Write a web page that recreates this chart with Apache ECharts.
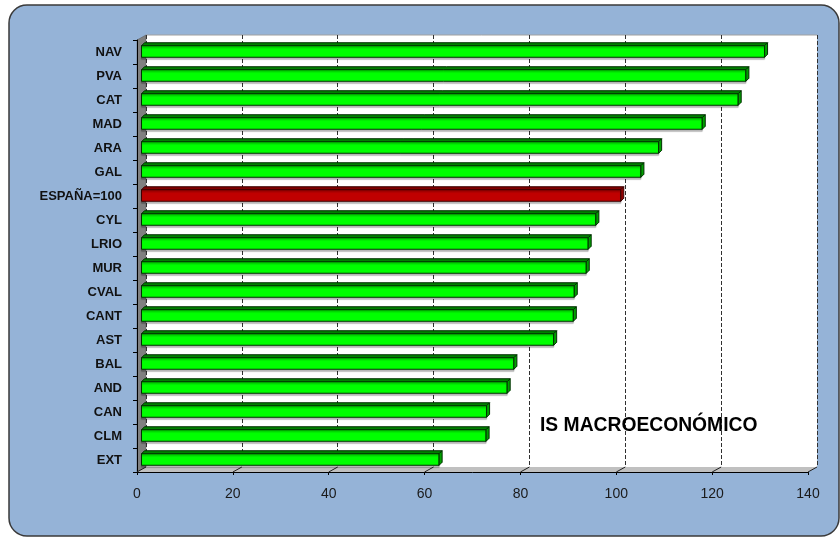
<!DOCTYPE html>
<html><head><meta charset="utf-8">
<script src="https://cdn.jsdelivr.net/npm/echarts@6/dist/echarts.min.js"></script>
<style>html,body{margin:0;padding:0;background:#fff}#c{width:840px;height:537px}</style>
</head><body><div id="c"></div>
<script>
const categories = ['NAV','PVA','CAT','MAD','ARA','GAL','ESPAÑA=100','CYL','LRIO','MUR','CVAL','CANT','AST','BAL','AND','CAN','CLM','EXT'];
const values = [130.0, 126.1, 124.5, 117.0, 107.9, 104.2, 100.0, 94.8, 93.2, 92.8, 90.3, 90.1, 86.0, 77.7, 76.3, 72.0, 71.9, 62.1];
const highlight = 'ESPAÑA=100';
const xTicks = [0, 20, 40, 60, 80, 100, 120, 140];
const annotation = 'IS MACROECONÓMICO';

const FONT = '"Liberation Sans", Arial, sans-serif';
const chart = echarts.init(document.getElementById('c'), null, {renderer: 'canvas'});

const barData = values.map((v, i) => [v, i]);
const tickData = xTicks.map(v => [v, 0]);

chart.setOption({
  backgroundColor: '#ffffff',
  animation: false,
  graphic: [
    {type: 'rect', z: 0, z2: 0, shape: {x: 9, y: 5, width: 830, height: 531, r: 18},
     style: {fill: '#95B3D7', stroke: '#3a3a3a', lineWidth: 1.5}},
    {type: 'rect', z: 0, z2: 1, shape: {x: 146, y: 35, width: 671, height: 432},
     style: {fill: '#ffffff'}},
    {type: 'line', z: 0, z2: 2, shape: {x1: 146, y1: 35, x2: 817, y2: 35},
     style: {stroke: '#a0a0a0', lineWidth: 1}},
    {type: 'polygon', z: 1, shape: {points: [[137, 40], [146, 35], [146, 467], [137, 472]]},
     style: {fill: '#808080', stroke: '#555', lineWidth: 0.5}},
    {type: 'polygon', z: 1, shape: {points: [[137, 472], [146, 467], [817, 467], [808, 472]]},
     style: {fill: '#c0c0c0'}},
    {type: 'text', z: 20, x: 540, y: 426,
     style: {text: annotation, font: 'bold 19.3px ' + FONT, fill: '#000', textVerticalAlign: 'middle'}}
  ],
  grid: [
    {left: 146, right: 23, top: 35, bottom: 70, show: false},
    {left: 137, right: 32, top: 40, bottom: 65, show: false}
  ],
  xAxis: [
    {gridIndex: 0, type: 'value', min: 0, max: 140, interval: 20, z: 5,
     axisLine: {show: false}, axisTick: {show: false}, axisLabel: {show: false},
     splitLine: {show: true, lineStyle: {color: '#303030', type: [4, 2], width: 1}}},
    {gridIndex: 1, type: 'value', min: 0, max: 140, interval: 20, z: 5,
     axisLine: {show: true, lineStyle: {color: '#000', width: 1}},
     axisTick: {show: true, length: 3, lineStyle: {color: '#000'}},
     axisLabel: {fontSize: 14, margin: 15, color: '#1a1a1a', fontFamily: FONT},
     splitLine: {show: false}}
  ],
  yAxis: [
    {gridIndex: 0, type: 'category', data: categories, inverse: true, show: false},
    {gridIndex: 1, type: 'category', data: categories, inverse: true, z: 5,
     axisLine: {show: true, lineStyle: {color: '#000', width: 1}},
     axisTick: {show: true, length: 4, lineStyle: {color: '#000'}},
     axisLabel: {fontSize: 13, fontWeight: 'bold', margin: 15, color: '#111', fontFamily: FONT},
     splitLine: {show: false}}
  ],
  series: [
    {
      type: 'custom', name: 'floorTicks', xAxisIndex: 1, yAxisIndex: 1, z: 6,
      data: tickData, encode: {x: 0, y: 1}, silent: true,
      renderItem: function (params, api) {
        const cs = params.coordSys;
        const x = api.coord([api.value(0), 0])[0];
        const yb = cs.y + cs.height;
        return {type: 'line', shape: {x1: x, y1: yb, x2: x + 9, y2: yb - 5},
                style: {stroke: '#202020', lineWidth: 1}};
      }
    },
    {
      type: 'custom', name: 'IS', xAxisIndex: 1, yAxisIndex: 1, z: 10,
      data: barData, encode: {x: 0, y: 1},
      renderItem: function (params, api) {
        const idx = api.value(1);
        const c0 = api.coord([0, idx]);
        const c1 = api.coord([api.value(0), idx]);
        const band = api.size([0, 1])[1];
        const h = band * 0.48;
        const dx = 4.5, d = 3;
        const x0 = c0[0] + dx, x1 = c1[0] + dx;
        const yc = c0[1] - 0.5;
        const yt = yc - h / 2, yb = yc + h / 2;
        const isHi = categories[params.dataIndex] === highlight;
        const face = isHi ? '#C00000' : '#00FF00';
        const top = isHi ? '#800000' : '#008000';
        const side = isHi ? '#900000' : '#00A000';
        const edge = isHi ? '#3a0000' : '#003000';
        return {
          type: 'group',
          children: [
            {type: 'rect', shape: {x: x0, y: yt, width: x1 - x0, height: h},
             style: {fill: face, stroke: edge, lineWidth: 1,
                     shadowColor: 'rgba(0,0,0,0.25)', shadowOffsetY: 2, shadowOffsetX: 0, shadowBlur: 1}},
            {type: 'polygon', shape: {points: [[x0, yt], [x1, yt], [x1 + d, yt - d], [x0 + d, yt - d]]},
             style: {fill: top, stroke: edge, lineWidth: 1}},
            {type: 'polygon', shape: {points: [[x1, yt], [x1 + d, yt - d], [x1 + d, yb - d], [x1, yb]]},
             style: {fill: side, stroke: edge, lineWidth: 1}}
          ]
        };
      }
    }
  ]
});
</script></body></html>
